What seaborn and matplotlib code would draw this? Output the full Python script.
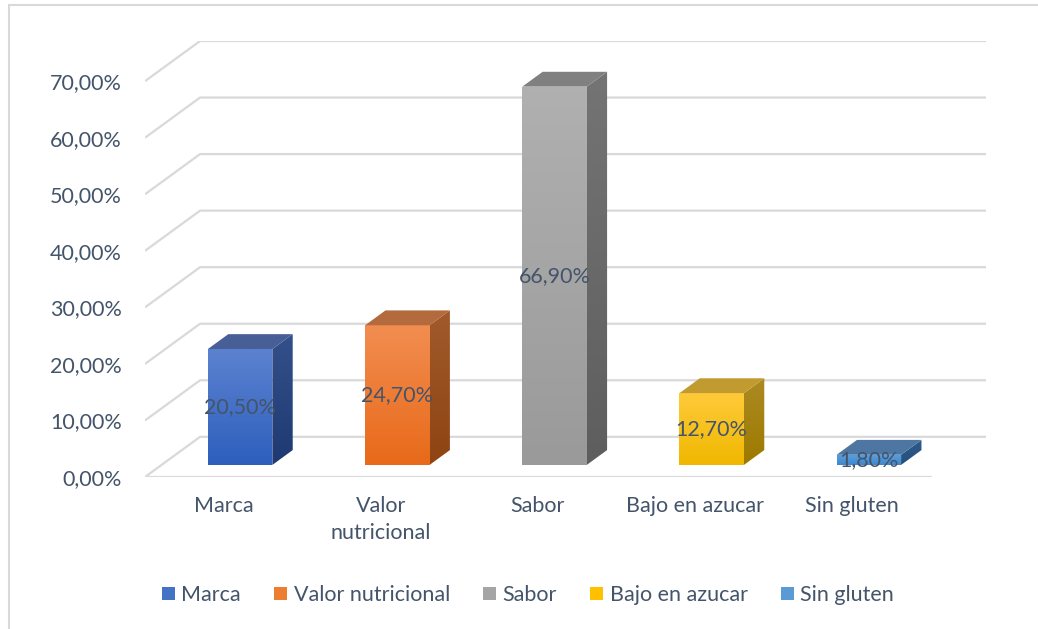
import matplotlib
matplotlib.use("Agg")
import matplotlib.pyplot as plt
import matplotlib.colors as mcolors
from matplotlib.patches import Polygon, Patch
from matplotlib.lines import Line2D
import seaborn as sns
import numpy as np

# data
categories = ["Marca", "Valor nutricional", "Sabor", "Bajo en azucar", "Sin gluten"]
tick_names = ["Marca", "Valor\nnutricional", "Sabor", "Bajo en azucar", "Sin gluten"]
values = [20.5, 24.7, 66.9, 12.7, 1.8]
y_ticks = [0, 10, 20, 30, 40, 50, 60, 70]

# office palette: base, front top, front bottom, side top, side bottom, top face
base_colors = ["#4472c4", "#ed7d31", "#a5a5a5", "#ffc000", "#5b9bd5"]
front_top = ["#5b82d0", "#f28d50", "#b0b0b0", "#ffca3a", "#5aa0e0"]
front_bot = ["#2e5fbd", "#e86a1a", "#9a9a9a", "#f0b800", "#3f86cc"]
side_top = ["#34508a", "#a05a2c", "#747474", "#ad8a22", "#2f5a8a"]
side_bot = ["#1f3a72", "#8f4412", "#5e5e5e", "#9c7a00", "#24507e"]
top_face = ["#475f96", "#b36a3c", "#808080", "#c29b30", "#4d76a3"]

text_col = "#44546a"
grid_col = "#d9d9d9"
fs = 15.5

sns.set_theme(style="white")
plt.rcParams["font.family"] = ["Lato", "DejaVu Sans"]

fig = plt.figure(figsize=(10.38, 6.29), dpi=100)
W, H = 1038, 629
# axes box in pixels: front-left 0% at (145, 477), back-right 70% at (986, 41)
ax = fig.add_axes([145 / W, (629 - 477) / H, (986 - 145) / W, (477 - 41) / H])

# full depth of the 3D box in data units
DX = 55 / 157.0
DY = 40 / 5.63
ax.set_xlim(-0.5, 4.5 + DX)
ax.set_ylim(0, 70 + DY)

# back wall gridlines + left wall diagonals
for v in y_ticks:
    ax.plot([-0.5, -0.5 + DX, 4.5 + DX], [v, v + DY, v + DY],
            color=grid_col, lw=1.6, zorder=1, solid_capstyle="butt")
# front floor edge
ax.plot([-0.5, 4.5], [0, 0], color=grid_col, lw=1.6, zorder=1)

sns.barplot(x=categories, y=values, hue=categories, palette=base_colors,
            width=0.41, legend=False, ax=ax, zorder=3, linewidth=0)

# bars sit inside the depth, front face pushed back a little
f1 = 0.3
f2 = 0.37
sx, sy = f1 * DX, f1 * DY
dx, dy = f2 * DX, f2 * DY


def grad_fill(poly_xy, c1, c2, z):
    poly = Polygon(poly_xy, closed=True, facecolor="none", edgecolor="none", zorder=z)
    ax.add_patch(poly)
    xs = [p[0] for p in poly_xy]
    ys = [p[1] for p in poly_xy]
    cmap = mcolors.LinearSegmentedColormap.from_list("g", [c2, c1])
    img = ax.imshow(np.linspace(0, 1, 64).reshape(-1, 1), cmap=cmap, aspect="auto",
                    origin="lower", extent=[min(xs), max(xs), min(ys), max(ys)],
                    zorder=z, interpolation="bilinear")
    img.set_clip_path(poly)


for i, p in enumerate(ax.patches):
    x0 = p.get_x() + sx
    w = p.get_width()
    h = values[i]
    y0 = sy
    p.set_visible(False)
    front = [(x0, y0), (x0 + w, y0), (x0 + w, y0 + h), (x0, y0 + h)]
    side = [(x0 + w, y0), (x0 + w + dx, y0 + dy), (x0 + w + dx, y0 + h + dy), (x0 + w, y0 + h)]
    top = [(x0, y0 + h), (x0 + w, y0 + h), (x0 + w + dx, y0 + h + dy), (x0 + dx, y0 + h + dy)]
    grad_fill(front, front_top[i], front_bot[i], 4)
    grad_fill(side, side_top[i], side_bot[i], 4)
    ax.add_patch(Polygon(top, closed=True, facecolor=top_face[i], edgecolor="none", zorder=4))
    lbl = f"{h:.2f}".replace(".", ",") + "%"
    ax.text(x0 + w / 2, y0 + h / 2, lbl, ha="center", va="center",
            fontsize=fs, color=text_col, zorder=6)

ax.set_xlim(-0.5, 4.5 + DX)
ax.set_ylim(0, 70 + DY)

ax.set_yticks(y_ticks)
ax.set_yticklabels([f"{v},00%" for v in y_ticks])
ax.set_xticks(range(len(categories)))
ax.set_xticklabels(tick_names, linespacing=1.4)
ax.tick_params(axis="y", length=0, pad=16.5, labelsize=fs, labelcolor=text_col)
ax.tick_params(axis="x", length=0, pad=14, labelsize=fs, labelcolor=text_col)
ax.set_xlabel("")
ax.set_ylabel("")
for s in ax.spines.values():
    s.set_visible(False)
ax.grid(False)

# legend
handles = [Patch(facecolor=c, edgecolor="none") for c in base_colors]
fig.legend(handles, categories, loc="center", bbox_to_anchor=(528 / W, 1 - 595 / H),
           ncol=5, frameon=False, fontsize=fs, handlelength=0.6, handleheight=0.6,
           handletextpad=0.3, columnspacing=1.55, labelcolor=text_col)

# chart frame (only top and left visible)
fig.add_artist(Line2D([9 / W, 9 / W], [0, 1 - 5 / H], color=grid_col, lw=1.5))
fig.add_artist(Line2D([9 / W, 1], [1 - 5 / H, 1 - 5 / H], color=grid_col, lw=1.5))

fig.savefig("out.png", dpi=100)
